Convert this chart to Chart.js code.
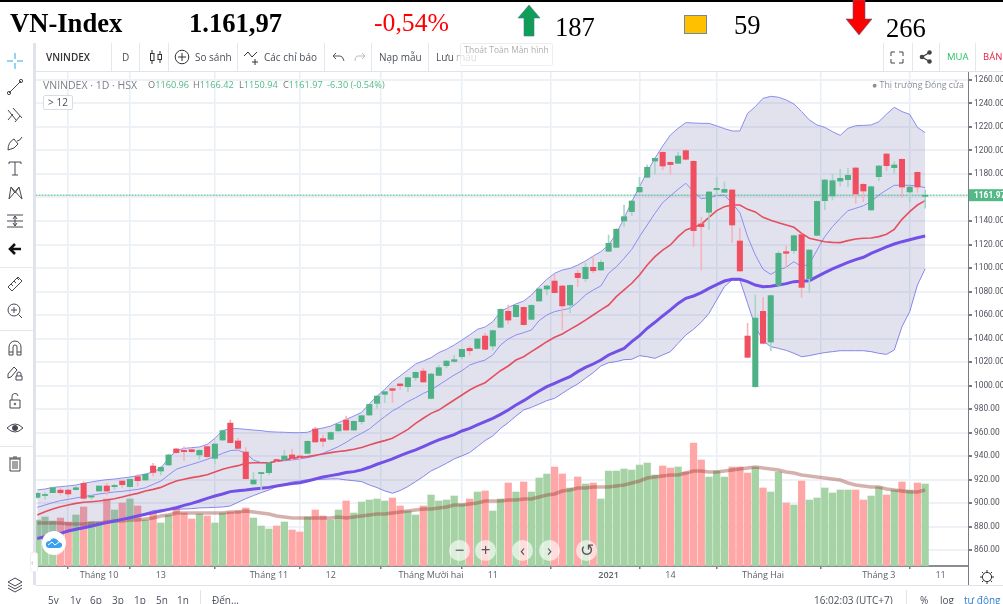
<!DOCTYPE html>
<html lang="vi">
<head>
<meta charset="utf-8">
<title>VN-Index</title>
<script src="https://cdn.jsdelivr.net/npm/chart.js@4/dist/chart.umd.min.js"></script>
<style>
  html, body { margin: 0; padding: 0; background: #fff; }
  #page { position: relative; width: 1003px; height: 604px; overflow: hidden; font-family: "Open Sans", sans-serif; color: #4a4f5a; }
  #page > * { position: absolute; }
  canvas { left: 0; top: 0; }
  .big { font-family: "Liberation Serif", serif; font-size: 26.6px; line-height: 30px; color: #000; white-space: nowrap; }
  .t { font-size: 10px; line-height: 14px; white-space: nowrap; }
  .sep { width: 1px; top: 43px; height: 28px; background: #e4e7ee; }
  .hsep { left: 0; width: 33px; height: 1px; background: #e4e7ee; }
  .ic { width: 18px; height: 18px; left: 6px; fill: none; stroke: #44494f; stroke-width: 1; }
  .nav { width: 21px; height: 21px; border-radius: 50%; background: rgba(255,255,255,.62); text-align: center; font-size: 17px; line-height: 19px; color: #555; }
  .v { color: #53b987; }
  .leg { font-size: 9.2px; color: #777; }
</style>
</head>
<body>
<div id="page">
  <canvas id="chart" width="1003" height="604"></canvas>

  <!-- header -->
  <div style="left:0;top:0;width:1003px;height:2px;background:#000"></div>
  <div class="big" style="left:10px;top:8px;font-weight:bold">VN-Index</div>
  <div class="big" style="left:189px;top:8px;font-weight:bold">1.161,97</div>
  <div class="big" style="left:374px;top:8px;color:#f00;font-size:25.7px">-0,54%</div>
  <svg style="left:516px;top:3px" width="26" height="34"><path d="M13 2 L24 15 L18 15 L18 33 L8 33 L8 15 L2 15 Z" fill="#0f9d58" stroke="#4a7a90" stroke-width=".6"/></svg>
  <div class="big" style="left:555px;top:12px">187</div>
  <div style="left:684px;top:15px;width:21px;height:17px;background:#ffc000;border:1px solid #6f8aa0"></div>
  <div class="big" style="left:734px;top:10px">59</div>
  <svg style="left:844px;top:0" width="30" height="37"><path d="M9 0 L21 0 L21 19 L28 19 L15 35 L2 19 L9 19 Z" fill="#f00" stroke="#4a6a90" stroke-width=".6"/></svg>
  <div class="big" style="left:886px;top:13px">266</div>

  <!-- top toolbar -->
  <div style="left:36px;top:71px;width:967px;height:1px;background:#e0e3eb"></div>
  <div class="sep" style="left:111px"></div><div class="sep" style="left:139px"></div><div class="sep" style="left:168px"></div>
  <div class="sep" style="left:237px"></div><div class="sep" style="left:324px"></div><div class="sep" style="left:371px"></div>
  <div class="sep" style="left:428px"></div><div class="sep" style="left:883px"></div><div class="sep" style="left:912px"></div>
  <div class="sep" style="left:939px"></div><div class="sep" style="left:975px"></div>
  <div class="t" style="left:46px;top:50px;font-weight:600;color:#333">VNINDEX</div>
  <div class="t" style="left:122px;top:50px">D</div>
  <svg style="left:149px;top:49px" width="14" height="16" fill="none" stroke="#333"><rect x="1.5" y="4.5" width="3.5" height="7"/><path d="M3 1V4M3 12V15M11 2V5M11 11V14"/><rect x="9" y="5.5" width="3.5" height="5"/></svg>
  <svg style="left:174px;top:49px" width="16" height="16" fill="none" stroke="#333"><circle cx="8" cy="8" r="6.8"/><path d="M8 4V12M4 8H12"/></svg>
  <div class="t" style="left:195px;top:50px">So sánh</div>
  <svg style="left:243px;top:50px" width="18" height="16" fill="none" stroke="#333"><path d="M1 6L5 2L9 7L14 2"/><path d="M12 9V15M9 12H15"/></svg>
  <div class="t" style="left:264px;top:50px">Các chỉ báo</div>
  <svg style="left:331px;top:52px" width="36" height="11" fill="none" stroke="#555"><path d="M2 4H9Q12 4 13 9M2 4L5 1M2 4L5 7"/><path stroke="#bbb" d="M34 4H27Q24 4 24 9M34 4L31 1M34 4L31 7"/></svg>
  <div class="t" style="left:379px;top:50px">Nạp mẫu</div>
  <div class="t" style="left:436px;top:50px">Lưu</div>
  <div class="t" style="left:456px;top:50px;color:#b5b5b5">mẫu</div>
  <div class="t" style="left:460px;top:43px;width:91px;height:21px;border:1px solid #eee;border-radius:2px;font-size:8.5px;line-height:11px;color:#b0b0b0;text-align:center;background:rgba(255,255,255,.55)">Thoát Toàn Màn hình</div>
  <svg style="left:890px;top:51px" width="14" height="13" fill="none" stroke="#444"><path d="M1 5V1H5M13 5V1H9M1 8V12H5M13 8V12H9"/></svg>
  <svg style="left:919px;top:50px" width="13" height="14" fill="#444"><circle cx="3" cy="7" r="2.3"/><circle cx="10.5" cy="2.5" r="2.3"/><circle cx="10.5" cy="11.5" r="2.3"/><path stroke="#444" stroke-width="1.4" d="M3 7L10.5 2.5M3 7L10.5 11.5"/></svg>
  <div class="t" style="left:947px;top:50px;color:#22c55e;font-size:9.5px">MUA</div>
  <div class="t" style="left:983px;top:50px;color:#e5233f;font-size:9.5px">BÁN</div>

  <!-- legend row -->
  <div class="t" style="left:43px;top:78px;color:#7b8087;font-size:10.5px">VNINDEX · 1D · HSX</div>
  <div class="t leg" style="left:148px;top:78px">O<span class="v">1160.96</span></div>
  <div class="t leg" style="left:193px;top:78px">H<span class="v">1166.42</span></div>
  <div class="t leg" style="left:239px;top:78px">L<span class="v">1150.94</span></div>
  <div class="t leg" style="left:283px;top:78px">C<span class="v">1161.97</span></div>
  <div class="t leg v" style="left:327px;top:78px;color:#53b987">-6.30 (-0.54%)</div>
  <div class="t" style="left:43px;top:95px;width:28px;height:13px;border:1px solid #d8dce3;border-radius:2px;line-height:13px;text-align:center;background:#fff">&gt; 12</div>
  <div class="t" style="left:872px;top:78px;color:#8a8f96;font-size:8.8px">● Thị trường Đóng cửa</div>

  <!-- left toolbar -->
  <div style="left:33px;top:43px;width:3px;height:542px;background:#e0e3eb"></div>
  <svg class="ic" style="top:52px;stroke:#2aa7f2" viewBox="0 0 18 18"><path d="M9 1V7M9 11V17M1 9H7M11 9H17"/></svg>
  <svg class="ic" style="top:78px" viewBox="0 0 18 18"><path d="M3 15L15 3"/><circle cx="3" cy="15" r="1.6"/><circle cx="15" cy="3" r="1.6"/></svg>
  <svg class="ic" style="top:106px" viewBox="0 0 18 18"><path d="M2 4L10 14M7 2L16 12M2 14L7 8M9 16L14 10"/></svg>
  <svg class="ic" style="top:134px" viewBox="0 0 18 18"><path d="M2 16Q2 8 8 5L12 10Q9 15 2 16ZM11 7Q14 7 16 3"/></svg>
  <svg class="ic" style="top:159px" viewBox="0 0 18 18"><path d="M3 3H15M9 3V16M6 16H12M3 3V5M15 3V5"/></svg>
  <svg class="ic" style="top:184px" viewBox="0 0 18 18"><path d="M3 15L5 3L9 9L13 3L16 15M3 15L13 3M5 3L16 15"/></svg>
  <svg class="ic" style="top:212px" viewBox="0 0 18 18"><path d="M1 3H17M1 9H17M1 15H17M9 4V14M7 7L9 4L11 7M7 11L9 14L11 11"/></svg>
  <svg class="ic" style="top:240px;stroke:#111;stroke-width:2.6" viewBox="0 0 18 18"><path d="M15 9H4M9 4L4 9L9 14"/></svg>
  <div class="hsep" style="top:267px"></div>
  <svg class="ic" style="top:275px" viewBox="0 0 18 18"><path d="M2 12L12 2L16 6L6 16ZM5 9L7 11M8 6L10 8M11 3L13 5"/></svg>
  <svg class="ic" style="top:302px" viewBox="0 0 18 18"><circle cx="8" cy="8" r="6"/><path d="M5 8H11M8 5V11M12.5 12.5L16 16"/></svg>
  <div class="hsep" style="top:330px"></div>
  <svg class="ic" style="top:339px" viewBox="0 0 18 18"><path d="M3 16V8A6 6 0 0 1 15 8V16H11V8A2 2 0 0 0 7 8V16ZM3 13H7M11 13H15"/></svg>
  <svg class="ic" style="top:365px" viewBox="0 0 18 18"><path d="M2 9L8 2L11 5L5 12L2 13ZM10 15H16V11H10ZM11 11V9A2 2 0 0 1 15 9V11"/></svg>
  <svg class="ic" style="top:392px" viewBox="0 0 18 18"><path d="M4 8H14V16H4ZM6 8V5A3 3 0 0 1 12 4"/><circle cx="9" cy="12" r=".8"/></svg>
  <svg class="ic" style="top:419px" viewBox="0 0 18 18"><path d="M1 9Q9 1 17 9Q9 17 1 9Z"/><circle cx="9" cy="9" r="2.5" fill="#44494f"/></svg>
  <div class="hsep" style="top:446px"></div>
  <svg class="ic" style="top:455px" viewBox="0 0 18 18"><path d="M4 4H14V16H4ZM3 3H15M7 2H11M7 6V14M9 6V14M11 6V14"/></svg>
  <svg class="ic" style="top:576px" viewBox="0 0 18 18"><path d="M9 2L16 6L9 10L2 6ZM2 9L9 13L16 9M2 12L9 16L16 12"/></svg>
  <div style="left:30px;top:552px;width:6px;height:18px;background:#fff;border-radius:3px;border:1px solid #eee;font-size:8px;line-height:17px;color:#aaa">‹</div>

  <!-- overlay on the pane -->
  <div style="left:42px;top:531px;width:24px;height:24px;border-radius:50%;background:#fff"></div>
  <svg style="left:45px;top:537px" width="18" height="12"><path d="M1 9Q0 4 5 4Q7 0 11 2Q13 3 14 5Q18 6 17 9Q16 11 14 11H4Q2 11 1 9Z" fill="#3aa0ef"/><path d="M3 8L7 5L10 8L14 5" stroke="#fff" fill="none"/></svg>
  <div class="nav" style="left:449px;top:540px">−</div>
  <div class="nav" style="left:475px;top:540px">+</div>
  <div class="nav" style="left:512px;top:540px">‹</div>
  <div class="nav" style="left:539px;top:540px">›</div>
  <div class="nav" style="left:576px;top:540px">↺</div>

  <!-- axis frame -->
  <div style="left:968px;top:72px;width:1px;height:513px;background:#787b86"></div>
  <div style="left:36px;top:585px;width:967px;height:1px;background:#e0e3eb"></div>
  <svg style="left:980px;top:570px" width="14" height="14" fill="none" stroke="#333"><circle cx="7" cy="7" r="4.6"/><path d="M7 0V2M7 12V14M0 7H2M12 7H14M2 2L3.5 3.5M10.5 10.5L12 12M12 2L10.5 3.5M3.5 10.5L2 12"/></svg>

  <!-- bottom bar -->
  <div class="t" style="left:48px;top:593px">5y</div><div class="t" style="left:70px;top:593px">1y</div>
  <div class="t" style="left:90px;top:593px">6p</div><div class="t" style="left:112px;top:593px">3p</div>
  <div class="t" style="left:134px;top:593px">1p</div><div class="t" style="left:156px;top:593px">5n</div>
  <div class="t" style="left:177px;top:593px">1n</div>
  <div style="left:200px;top:590px;width:1px;height:14px;background:#e0e3eb"></div>
  <div class="t" style="left:212px;top:593px">Đến...</div>
  <div class="t" style="left:814px;top:593px">16:02:03 (UTC+7)</div>
  <div style="left:906px;top:590px;width:1px;height:14px;background:#e0e3eb"></div>
  <div class="t" style="left:920px;top:593px">%</div>
  <div class="t" style="left:940px;top:593px">log</div>
  <div class="t" style="left:964px;top:593px;color:#2f80d0">tự động</div>
</div>

<script>
// Price data, one entry per session
const open = [904.8,906.4,908.8,911,911,911.4,916.7,905,910.2,914.5,913.9,918.7,913.9,922.4,919.6,931.5,927.2,932.4,946,944.8,945.4,940.9,948,938,953.6,968,952.8,943.4,916.2,925,925.8,937,937,940.9,940,942.3,963,954.8,954.2,961.4,970.6,962.1,969.2,974.9,984.8,992.5,997.3,1001.3,999,1006.7,1012.3,989,1008.6,1016.9,1020.5,1024.5,1031.6,1031.6,1042.1,1033.6,1049.5,1063.1,1058.6,1066.5,1056.3,1071.9,1082.1,1088.9,1084.7,1068.5,1095.5,1090.9,1100.6,1098.3,1114.2,1117.6,1140,1148,1164.7,1177.2,1191,1198.4,1189.9,1189.1,1199.9,1190.8,1137.5,1147.4,1166.7,1164.4,1166.4,1123,1042.1,999,1063.1,1037,1085.3,1113.9,1114.8,1128.4,1090.9,1127.8,1157.3,1161.3,1174,1175.2,1185.1,1171.2,1149.4,1177.7,1197,1185.4,1192.5,1164.7,1181.4,1160.96];
const close = [908.2,907.2,913,908.8,907.7,913,904,906,914.5,910.2,915,915.6,920.2,919,924.4,926,930.4,940.9,942.9,943.7,943.7,944.8,939.4,950.2,961.6,951.4,946.5,920.7,919.6,926,934,935.8,940,938,939,952.5,952,952.5,960,966.9,962.1,969.5,974.3,983.9,991,994.7,995.9,999.9,1006.7,1011.2,1003,1009.8,1015.2,1020.8,1022,1030.8,1029.6,1039.6,1030.8,1046.7,1064.8,1055.7,1068.2,1051.8,1068.2,1082.1,1084.7,1079,1067.7,1085.2,1091.8,1100.6,1097.7,1104.8,1121,1133,1143.7,1157,1168.7,1185.7,1193.3,1186.8,1188,1195.3,1192.5,1131.8,1135.2,1164.7,1167.8,1166.9,1136.6,1097.5,1024,1057.4,1035.9,1076.5,1112.5,1112.5,1127.5,1083.5,1115.3,1156.7,1174.9,1174.3,1176.3,1178.9,1163,1165.5,1169.2,1186.8,1187.1,1187.7,1168.9,1168.9,1168.9,1161.97];
const high = [909,908.8,913.4,913.3,911.5,914.5,918.2,906.8,914.5,916.8,915.9,919,920.4,924.4,925,933.8,931,941.5,946.5,947.9,946,945.4,948.5,950.8,962,970.7,955,947.1,926,926.4,934.5,937.5,944.6,945.7,940.5,953,964.4,957.9,960.5,967.3,974,970,974.8,984.3,991.5,995.2,997.8,1001.8,1007.1,1011.6,1014.4,1010.3,1017.4,1021.2,1025.7,1031.3,1033.3,1040.1,1044.4,1047.2,1065.3,1068.5,1068.7,1067,1068.7,1082.5,1085.2,1094.6,1085.2,1085.7,1098,1104,1109.7,1106.8,1128.1,1133.5,1153.6,1157.5,1177.2,1187.7,1193.8,1199,1190.4,1198.7,1201,1191.3,1143.1,1165.2,1177.2,1173.2,1166.9,1133.8,1052.9,1077,1075,1077,1114,1118.7,1128,1128.9,1115.8,1157.2,1175.4,1179.7,1184,1184.8,1185.7,1171.7,1169.7,1187.3,1197.5,1190.5,1193,1169.4,1181.9,1166.42];
const low = [904,903.2,908.8,906.8,905.4,911,903.1,903.1,910.2,906.8,911.6,913.3,913.6,914.5,919.2,923,923.9,932,942.5,936,943.2,937.2,939,933.8,953.2,951,946,920.3,915.8,911,923.9,935,936.5,936,936.5,942,951.5,948,953.8,961,961.7,961.7,967.1,974.5,980.6,985.4,985.4,996.7,994.8,1004.1,1002.6,988.6,1008.2,1015,1019.5,1022.6,1025.9,1031.2,1030.4,1030.2,1049.1,1052.4,1058.2,1051.4,1055.9,1071.5,1077,1078.6,1047.2,1062,1084.1,1088.4,1096,1097.9,1113.8,1117.2,1135.2,1144.5,1164.3,1176.8,1180,1183.4,1179.7,1188.7,1192,1118.2,1098.3,1132.9,1161.3,1164,1121.6,1097,1023.6,998.6,1035.5,1029.6,1084.9,1100.3,1112.5,1075,1079,1127.4,1149.4,1157.9,1169.8,1169.2,1155,1156.5,1149,1174.3,1182.9,1180.6,1160.2,1156.5,1164.4,1150.94];

// Bollinger bands
const bbUpper = [911.1,911.9,913.3,913.9,914.5,915.3,916.8,917.9,919,919.9,920.4,921.3,922.1,923.3,924.7,926.4,929.8,938,944.6,946.5,947.1,947.7,949.9,955,961.6,963.3,963.3,962.7,962.1,961.6,960.7,960.4,960.2,959.9,959.9,960.2,962.7,963.8,965.5,968.4,971.2,974,977.2,984.3,991,996.7,1003.3,1008.1,1013.2,1018.3,1020.9,1023.7,1028,1030.8,1034.5,1038.7,1043,1047.8,1049.8,1054.3,1062.8,1066.5,1069.4,1071.9,1077,1084.1,1090.4,1095.5,1098.3,1099.7,1102.5,1106,1110.2,1113.9,1119.6,1129.5,1142.3,1156.5,1169.2,1182,1193.3,1203.8,1213.2,1218.9,1223.7,1223.4,1223.1,1223.1,1220.9,1218.6,1216.6,1216.6,1231.6,1237.3,1244.4,1246.1,1245.3,1243,1239.6,1233.1,1226,1221.7,1219.7,1216,1212.9,1218.9,1221.1,1221.4,1221.7,1224.5,1231,1236.7,1233.1,1230.8,1219.7,1215.2];
const bbBasis = [896.3,898.3,900.3,902,903.1,904.3,905.4,906.5,907.7,908.5,909.4,909.9,910.8,911.6,913,915.9,918.7,923.8,928.7,930.9,932.9,934.9,937.2,939.5,942.3,944.6,945.1,942.3,936.6,934.3,934.3,935.5,936,936.6,937.5,938.6,940,942.3,945.1,948,951.6,955.9,959.3,963,968.4,973.5,978.3,982,986.3,989.6,993.3,996.2,1000.4,1004.7,1008.9,1012.6,1017.4,1019.7,1021.7,1026,1034.5,1039.6,1043,1045,1047.2,1055.2,1060,1062.9,1064.3,1065.7,1070.8,1077,1081.3,1084.7,1095.5,1101,1108.2,1115.9,1126.7,1136.6,1146.5,1155.6,1161.3,1167,1172.1,1165,1159,1159.9,1161.6,1162.1,1155,1147.1,1126.7,1111.1,1098.9,1094.6,1098.3,1100.6,1105.4,1101.1,1103.4,1115.3,1126.7,1135.2,1142.3,1148.8,1150.8,1153,1156.5,1162.1,1166.4,1170.4,1170.4,1170.4,1169.8,1168.4];
const bbLower = [869.1,869.9,871.9,873.6,875.6,877,878.2,879.3,881.3,883.3,884.1,885.5,886.7,888.4,891.2,893.5,894.1,894.1,894.6,894.9,895.2,895.8,896,896.3,896.6,897.5,900.6,903.7,906.3,908.8,911.1,913.9,916.2,917.9,918.7,919.9,920.2,920.2,920.5,920.5,919.6,919,918.2,915.4,913.1,910.3,908.3,910.6,914,918.2,922.5,927.3,930.4,933.8,937.5,940.1,942.9,948,953.1,957.1,963.5,968.4,974,979.2,981.4,984.2,987.1,989.1,993.3,997.6,1001.3,1006.1,1010.9,1016.6,1019.4,1020.3,1022,1022.3,1025.4,1024.5,1023.1,1026,1028.8,1035.9,1043,1047.8,1053.8,1061.4,1072.8,1084.1,1089.8,1089.8,1070,1050.1,1038.2,1033,1031.6,1029.9,1027.4,1024.5,1025.4,1026.8,1028,1028.8,1029.6,1029.6,1029.6,1029.6,1028.8,1027.4,1026.5,1030.2,1050.1,1062.8,1085.5,1099.2];

// Moving averages
const maRed = [889.8,892.6,894.9,896.9,898.3,899.7,900.6,901.1,901.7,902.6,903.7,905.1,906.8,908.2,910.2,911.6,913.3,916.2,918.7,920.2,921.6,922.7,924.1,926.4,928.7,930.4,931.8,933.8,934.3,934.3,934.3,935.5,936.6,938,938.9,939.5,940.6,941.7,942.9,943.8,944.6,945.7,947.2,949.4,951.4,953.1,955.1,958.8,962.7,967.8,972.1,976.3,979.1,983.4,987.7,991.9,996.2,999.6,1002.4,1007.5,1012.6,1016.6,1021.7,1024.5,1028.8,1033,1037.3,1041,1043.8,1047.8,1051.5,1055.7,1060,1064.3,1068.5,1075.6,1081.3,1087,1094,1102.6,1109.7,1115.3,1119.6,1126.7,1132.4,1134.6,1137.2,1143.1,1148.8,1152.2,1153.6,1153.6,1149.9,1147.7,1143.1,1140.6,1138.6,1136.6,1134.6,1129.5,1125.3,1123.8,1122.4,1121.8,1121.6,1123.3,1124.7,1125.3,1125.5,1126.7,1128.7,1132.9,1141.4,1148,1153.6,1157.3];
const maPurple = [869.9,871.4,872.8,874.2,876.2,877.6,879,880.4,881.9,883.3,884.7,886.1,887.5,889,890.4,891.8,893.2,894.6,896,898,899.7,901.7,904,906,907.7,909.7,910.5,911.1,911.9,912.5,913.3,914.5,915.6,916.5,917.3,918.7,920.4,922.1,923.3,924.5,925.9,926.7,928.2,930.4,933,935.2,937.5,940.4,942.9,945.2,948,950.9,953.7,956,958.2,961.3,963.5,966.4,969.2,972.1,975.4,979.2,983.4,987.1,991.3,995.3,999,1001.9,1004.7,1007.5,1011.8,1015.4,1018.3,1021.7,1026,1028.8,1031.6,1037.3,1042.4,1048.7,1053.8,1059.2,1064.3,1069.9,1074.2,1076.2,1079,1082.7,1085.8,1088.9,1090.4,1090.4,1088.4,1085.5,1084.1,1084.4,1085.5,1086.7,1088.4,1088.7,1089.2,1092.6,1096,1099.2,1102,1104.8,1107.1,1109.1,1112.5,1115.3,1117.9,1120.4,1122.4,1124.1,1125.8,1127.2];

// Volume and its average
const volume = [460,490,450,480,440,510,590,440,440,670,560,630,670,600,460,540,430,510,590,530,470,520,500,430,530,540,550,580,480,400,370,400,440,360,340,490,560,500,460,560,650,530,640,660,670,650,680,600,550,510,600,710,650,660,700,620,670,740,750,550,670,830,740,840,740,880,920,990,920,780,890,820,830,670,950,950,970,960,1010,1030,910,1000,980,990,940,1230,1060,890,950,890,990,990,930,990,780,740,940,630,610,850,660,680,780,730,760,760,760,660,700,790,710,760,840,760,830,820];
const volumeMa = [430,430,430,430,420,420,420,430,430,440,450,450,460,460,470,480,500,510,530,530,530,530,530,530,530,540,540,550,540,530,520,500,490,480,480,480,480,480,480,490,480,490,500,510,520,520,530,540,550,560,570,570,580,590,610,610,620,630,650,650,650,660,660,670,670,690,710,720,750,760,780,780,790,790,790,800,810,830,850,880,890,900,910,910,930,950,950,940,940,950,960,970,980,990,980,970,960,940,930,910,900,890,880,870,860,830,810,800,790,790,770,760,750,740,740,760];

// Axes
const tickIndex = [8,16,30,38,51,59,74,82,94,109,117];
const tickLabels = ['Tháng 10','13','Tháng 11','12','Tháng Mười hai','11','2021','14','Tháng Hai','Tháng 3','11'];
const priceTicks = [860,880,900,920,940,960,980,1000,1020,1040,1060,1080,1100,1120,1140,1160,1180,1200,1220,1240,1260];

const lastClose = 1161.97;
const upColor = '#4fb286';
const downColor = '#ef4f60';

function pairs(lo, hi) {
  return lo.map((v, i) => ({ x: i, y: [v, hi[i]] }));
}

function points(values) {
  return values.map((v, i) => ({ x: i, y: v }));
}

function lineSet(values, color, width, order, yAxisID = 'y') {
  return {
    type: 'line', data: points(values), borderColor: color, borderWidth: width,
    pointRadius: 0, tension: 0, fill: false, order, yAxisID
  };
}

const isUp = close.map((c, i) => c >= open[i]);

// Draws the green price box on the axis
const lastPriceBox = {
  id: 'lastPriceBox',
  afterDraw(chart) {
    const { ctx, scales } = chart;
    const y = scales.y.getPixelForValue(lastClose);
    ctx.save();
    ctx.fillStyle = '#53b987';
    ctx.fillRect(968, y - 6, 35, 12);
    ctx.fillStyle = '#fff';
    ctx.font = 'bold 8.4px Roboto';
    ctx.textBaseline = 'middle';
    ctx.fillText(lastClose.toFixed(2), 974, y + 0.5);
    ctx.restore();
  }
};

new Chart(document.getElementById('chart'), {
  data: {
    datasets: [
      {
        type: 'bar', data: points(volume), yAxisID: 'yVol', order: 10, grouped: false, barThickness: 6.6,
        backgroundColor: isUp.map(u => u ? '#a6d3a6' : '#ffa6a6')
      },
      lineSet(volumeMa, 'rgba(150,60,50,.4)', 3.5, 9, 'yVol'),
      {
        ...lineSet(bbUpper, '#8c8cf2', 1, 8),
        fill: { target: '+1' }, backgroundColor: 'rgba(72,72,150,.155)'
      },
      lineSet(bbLower, '#8c8cf2', 1, 8),
      lineSet(bbBasis, '#8c8cf2', 1, 7),
      lineSet(maRed, '#e4505f', 1.6, 6),
      lineSet(maPurple, '#7350e6', 3, 5),
      {
        type: 'line', data: [{ x: -1, y: lastClose }, { x: 122, y: lastClose }],
        borderColor: '#3fb37f', borderWidth: 1, borderDash: [2, 1], pointRadius: 0, order: 4
      },
      {
        type: 'bar', data: pairs(low, high), order: 3, grouped: false, barThickness: 1,
        backgroundColor: isUp.map(u => u ? '#a9d6c6' : '#f6b4bd')
      },
      {
        type: 'bar', data: pairs(open, close), order: 2, grouped: false, barThickness: 5.4, minBarLength: 1,
        backgroundColor: isUp.map(u => u ? upColor : downColor)
      }
    ]
  },
  plugins: [lastPriceBox],
  options: {
    responsive: false,
    animation: false,
    layout: { padding: { left: 36, top: 72, right: 0, bottom: 19 } },
    plugins: { legend: { display: false }, tooltip: { enabled: false } },
    scales: {
      x: {
        type: 'linear', min: -0.17, max: 120.55, offset: false,
        afterBuildTicks: scale => { scale.ticks = tickIndex.map(v => ({ value: v })); },
        afterFit: scale => { scale.height = 19; },
        grid: { color: '#e9eff4', lineWidth: 1.5, tickLength: 3, tickColor: '#787b86' },
        border: { color: '#8a8d96', width: 2 },
        ticks: {
          autoSkip: false, maxRotation: 0, padding: 1, color: '#5c6068',
          font: ctx => ({ family: 'Open Sans', size: 9, weight: tickLabels[ctx.index] === '2021' ? '600' : '400' }),
          callback: (v, i) => tickLabels[i]
        }
      },
      y: {
        position: 'right', min: 846.4, max: 1266.8,
        afterBuildTicks: scale => { scale.ticks = priceTicks.map(v => ({ value: v })); },
        afterFit: scale => { scale.width = 35; },
        grid: { color: '#eef2f6', lineWidth: 2, tickLength: 4, tickColor: '#787b86' },
        border: { display: false },
        ticks: {
          autoSkip: false, padding: 2, color: '#50545c',
          font: { family: 'Roboto', size: 8.4 },
          callback: v => v.toFixed(2)
        }
      },
      yVol: { display: false, min: 0, max: 4940 }
    }
  }
});
</script>
</body>
</html>
